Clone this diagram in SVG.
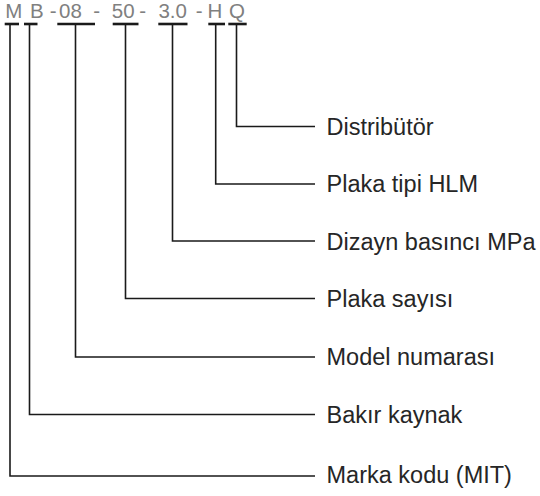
<svg xmlns="http://www.w3.org/2000/svg" width="540" height="496" viewBox="0 0 540 496">
<style>
.code{font-family:"Liberation Sans",Arial,sans-serif;font-size:20.5px;fill:#808080}
.lbl{font-family:"Liberation Sans",Arial,sans-serif;font-size:23.5px;fill:#262626}
.bar{stroke:#1a1a1a;stroke-width:2.6;fill:none}
.ln{stroke:#1a1a1a;stroke-width:1.6;fill:none}
</style>
<rect width="540" height="496" fill="#ffffff"/>
<g id="code">
<text class="code" x="5.3" y="17.5">M</text>
<text class="code" x="30" y="17.5">B</text>
<text class="code" x="49.8" y="17.5">-</text>
<text class="code" x="59" y="17.5">08</text>
<text class="code" x="93.2" y="17.5">-</text>
<text class="code" x="111.8" y="17.5">50</text>
<text class="code" x="139.2" y="17.5">-</text>
<text class="code" x="158.4" y="17.5">3.0</text>
<text class="code" x="195.8" y="17.5">-</text>
<text class="code" x="207.6" y="17.5">H</text>
<text class="code" x="229" y="17.5">Q</text>
</g>
<g id="bars">
<line class="bar" x1="4.7" y1="24" x2="19" y2="24"/>
<line class="bar" x1="24" y1="24" x2="37.5" y2="24"/>
<line class="bar" x1="57.3" y1="24" x2="95" y2="24"/>
<line class="bar" x1="112.7" y1="24" x2="138.5" y2="24"/>
<line class="bar" x1="158.3" y1="24" x2="187.5" y2="24"/>
<line class="bar" x1="208.3" y1="24" x2="225" y2="24"/>
<line class="bar" x1="228.3" y1="24" x2="246.7" y2="24"/>
</g>
<g id="connectors">
<path class="ln" d="M236.5 24V126.5H315"/>
<path class="ln" d="M215.7 24V184H315"/>
<path class="ln" d="M172.5 24V241H315"/>
<path class="ln" d="M125.5 24V298.5H315"/>
<path class="ln" d="M75.5 24V357H315"/>
<path class="ln" d="M29.5 24V414.5H315"/>
<path class="ln" d="M10 24V476H315"/>
</g>
<g id="node-distributor"><text class="lbl" x="326.5" y="134.5">Distribütör</text></g>
<g id="node-plaka-tipi"><text class="lbl" x="326.5" y="192">Plaka tipi HLM</text></g>
<g id="node-dizayn"><text class="lbl" x="326.5" y="249.5">Dizayn basıncı MPa</text></g>
<g id="node-plaka-sayisi"><text class="lbl" x="326.5" y="306.5">Plaka sayısı</text></g>
<g id="node-model"><text class="lbl" x="326.5" y="364.5">Model numarası</text></g>
<g id="node-bakir"><text class="lbl" x="326.5" y="422.5">Bakır kaynak</text></g>
<g id="node-marka"><text class="lbl" x="326.5" y="482.5">Marka kodu (MIT)</text></g>
</svg>
